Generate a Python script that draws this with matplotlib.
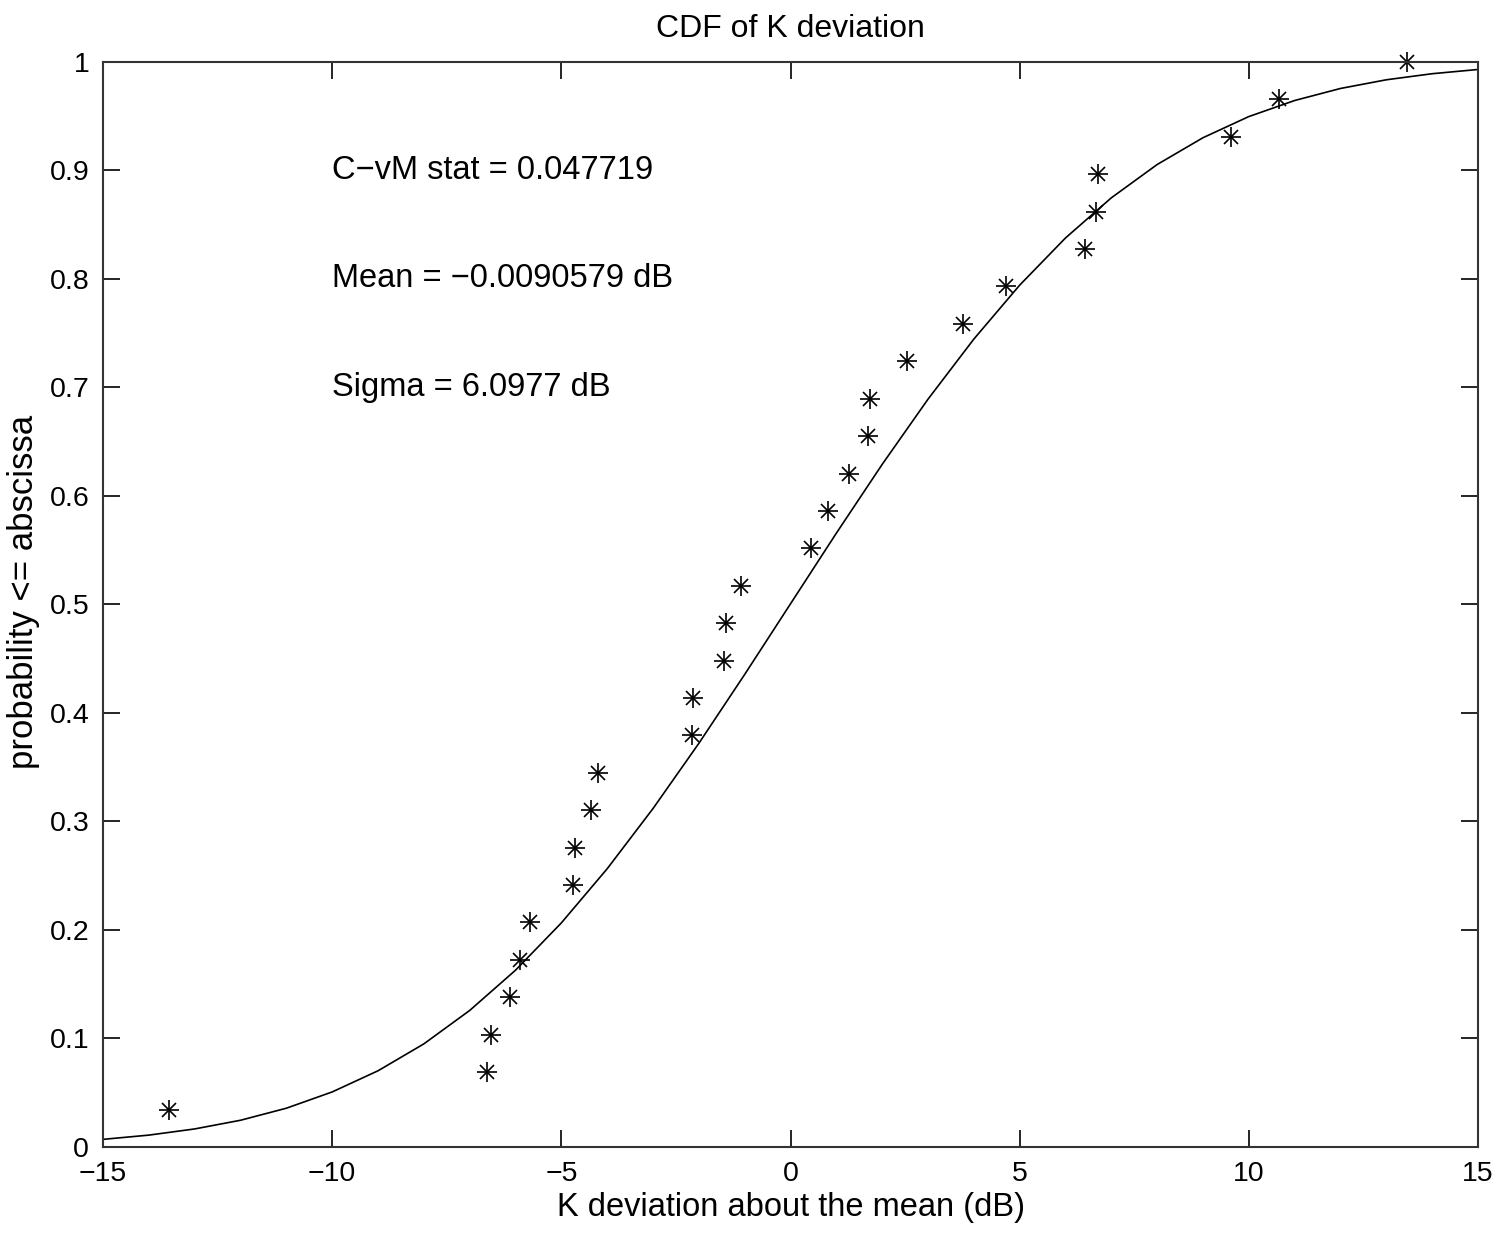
import matplotlib
matplotlib.use("Agg")
import matplotlib.pyplot as plt

# measured K deviation samples (dB) and empirical CDF levels
k_dev = [-13.56, -6.62, -6.54, -6.12, -5.90, -5.68, -4.75, -4.70, -4.35, -4.20,
         -2.15, -2.13, -1.45, -1.41, -1.08, 0.45, 0.82, 1.27, 1.69, 1.73,
         2.54, 3.76, 4.70, 6.43, 6.67, 6.71, 9.61, 10.66, 13.45]
emp_cdf = [0.0345, 0.0690, 0.1034, 0.1379, 0.1724, 0.2069, 0.2414, 0.2759, 0.3103, 0.3448,
           0.3793, 0.4138, 0.4483, 0.4828, 0.5172, 0.5517, 0.5862, 0.6207, 0.6552, 0.6897,
           0.7241, 0.7586, 0.7931, 0.8276, 0.8621, 0.8966, 0.9310, 0.9655, 1.0000]

# fitted normal CDF, read at 1 dB steps
fit_x = list(range(-15, 16))
fit_cdf = [0.0070, 0.0109, 0.0166, 0.0246, 0.0357, 0.0507, 0.0702, 0.0950, 0.1258, 0.1629,
           0.2065, 0.2564, 0.3119, 0.3720, 0.4355, 0.5006, 0.5657, 0.6291, 0.6892, 0.7446,
           0.7943, 0.8378, 0.8748, 0.9055, 0.9302, 0.9497, 0.9645, 0.9756, 0.9836, 0.9892,
           0.9931]

notes = ["C\u2212vM stat = 0.047719", "Mean = \u22120.0090579 dB", "Sigma = 6.0977 dB"]
note_y = [0.9, 0.8, 0.7]

plt.rcParams["font.family"] = ["Liberation Sans", "DejaVu Sans"]
plt.rcParams["font.size"] = 20.5

fig = plt.figure(figsize=(15.02, 12.35), dpi=100)
ax = fig.add_axes([0.0686, 0.0713, 0.9154, 0.8785])

ax.plot(fit_x, fit_cdf, color="black", linewidth=1.2)
ax.plot(k_dev, emp_cdf, linestyle="none", marker="+", markersize=15,
        markeredgewidth=1.2, color="black", clip_on=False)
ax.plot(k_dev, emp_cdf, linestyle="none", marker="x", markersize=10.5,
        markeredgewidth=1.2, color="black", clip_on=False)

for txt, y in zip(notes, note_y):
    ax.text(-10, y, txt, va="center", ha="left", fontsize=23.5)

ax.set_xlim(-15, 15)
ax.set_ylim(0, 1)
ax.set_xticks(range(-15, 16, 5))
ax.set_xticklabels(["\u221215", "\u221210", "\u22125", "0", "5", "10", "15"])
ax.set_yticks([i / 10 for i in range(11)])
ax.set_yticklabels(["0", "0.1", "0.2", "0.3", "0.4", "0.5", "0.6", "0.7", "0.8", "0.9", "1"])
ax.tick_params(direction="in", length=12, width=1.2, top=True, right=True, pad=10)
for s in ax.spines.values():
    s.set_linewidth(1.5)
    s.set_color("#333333")

ax.set_title("CDF of K deviation", pad=18, fontsize=23)
ax.set_xlabel("K deviation about the mean (dB)", labelpad=4, fontsize=23.5)
ax.set_ylabel("probability <= abscissa", labelpad=4, fontsize=25)
ax.yaxis.set_label_coords(-0.046, 0.512)

fig.savefig("out.png", dpi=100)
